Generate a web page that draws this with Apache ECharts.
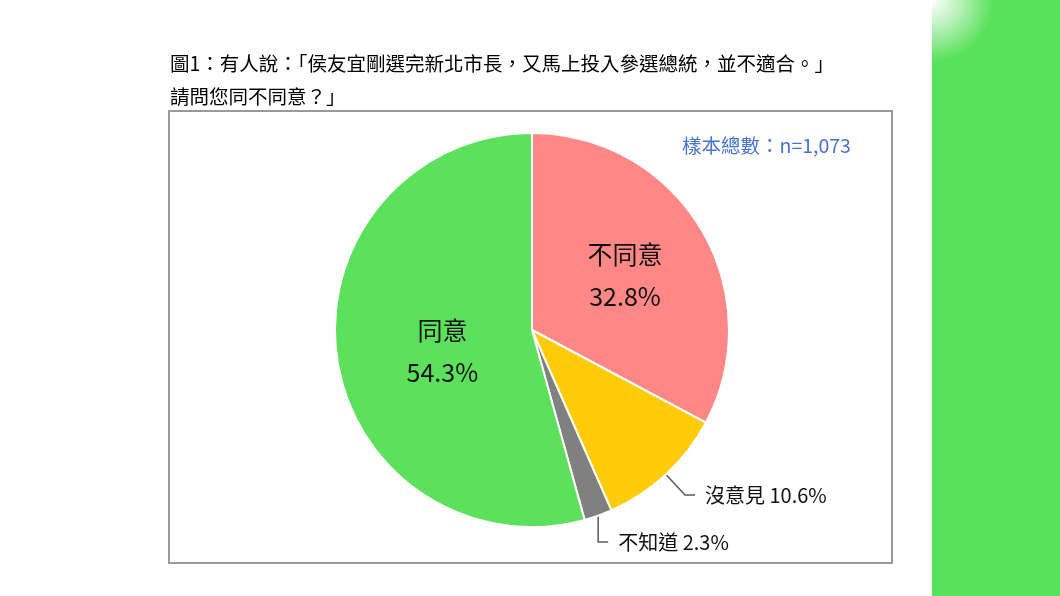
<!DOCTYPE html>
<html>
<head>
<meta charset="utf-8">
<script src="https://cdn.jsdelivr.net/npm/echarts@6/dist/echarts.min.js"></script>
<style>
html,body{margin:0;padding:0;background:#fff;}
#c{width:1060px;height:596px;}
</style>
</head>
<body>
<div id="c"></div>
<script>
const categories = ['不同意', '沒意見', '不知道', '同意'];
const values = [32.8, 10.6, 2.3, 54.3];
const colors = ['#FF8886', '#FFCB0A', '#808080', '#5BE15B'];
const titleLines = ['圖1：有人說：「侯友宜剛選完新北市長，又馬上投入參選總統，並不適合。」', '請問您同不同意？」'];
const sampleText = '樣本總數：n=1,073';

const insideSet = { '不同意': [6, -2], '同意': [11, 8] };
const FONT = '"Noto Sans CJK TC", "Noto Sans", sans-serif';

const data = categories.map((name, i) => {
  const item = { name: name, value: values[i], itemStyle: { color: colors[i] } };
  if (insideSet[name]) {
    item.label = {
      position: 'inside',
      formatter: '{b}\n\n{c}%',
      fontSize: 25,
      lineHeight: 21,
      color: '#111',
      offset: insideSet[name]
    };
    item.labelLine = { show: false };
  } else {
    item.label = {
      position: 'outside',
      formatter: '{b} {c}%',
      fontSize: 20,
      color: '#111',
      distanceToLabelLine: 10
    };
  }
  return item;
});

const chart = echarts.init(document.getElementById('c'), null, { renderer: 'canvas' });
chart.setOption({
  backgroundColor: '#ffffff',
  animation: false,
  textStyle: { fontFamily: FONT },
  title: [
    {
      text: titleLines.join('\n'),
      left: 165,
      top: 42,
      textStyle: { fontSize: 19.5, fontWeight: 'normal', color: '#000', lineHeight: 33, fontFamily: FONT }
    },
    {
      text: sampleText,
      left: 677,
      top: 131,
      textStyle: { fontSize: 19.5, fontWeight: 'normal', color: '#4774D4', fontFamily: FONT }
    }
  ],
  graphic: [
    {
      type: 'rect',
      shape: { x: 169, y: 111, width: 723, height: 452 },
      style: { fill: 'none', stroke: '#9a9a9a', lineWidth: 2 },
      z: -1
    },
    {
      type: 'rect',
      shape: { x: 932, y: 0, width: 128, height: 596 },
      style: {
        fill: {
          type: 'radial', x: 932, y: 0, r: 62, global: true,
          colorStops: [{ offset: 0, color: '#ffffff' }, { offset: 0.45, color: '#b9f1ba' }, { offset: 1, color: '#58E15A' }]
        }
      },
      z: -1
    }
  ],
  series: [{
    type: 'pie',
    center: [532, 330],
    radius: 197,
    startAngle: 90,
    clockwise: true,
    avoidLabelOverlap: false,
    itemStyle: { borderColor: '#ffffff', borderWidth: 2 },
    labelLine: { length: 28, length2: 10, lineStyle: { color: '#595959', width: 1.5 } },
    label: { fontFamily: FONT },
    labelLayout: function (p) {
      if (p.dataIndex !== 2 || !p.labelLinePoints) return {};
      const pts = p.labelLinePoints.map(q => q.slice());
      const len2 = pts[2][0] - pts[1][0];
      pts[1][0] = pts[0][0];
      pts[2][0] = pts[1][0] + len2;
      return { labelLinePoints: pts, x: pts[2][0] + 10, y: pts[2][1], align: 'left', verticalAlign: 'middle' };
    },
    emphasis: { disabled: true },
    data: data
  }]
});
</script>
</body>
</html>
